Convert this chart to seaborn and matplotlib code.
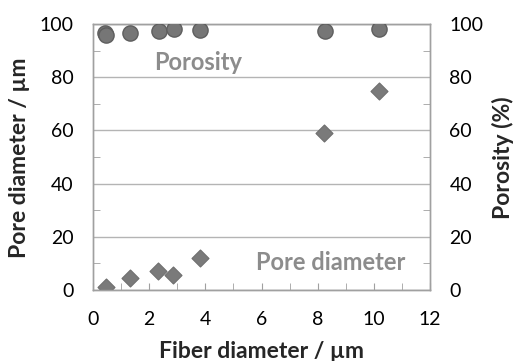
import matplotlib
matplotlib.use("Agg")
import matplotlib.pyplot as plt
import seaborn as sns
import pandas as pd
from matplotlib.ticker import MultipleLocator

fiber_por = [0.42, 0.47, 1.33, 2.34, 2.87, 3.82, 8.25, 10.2]
porosity = [96.5, 96.0, 96.8, 97.4, 98.1, 97.6, 97.4, 98.1]
fiber_pore = [0.45, 1.33, 2.31, 2.86, 3.81, 8.23, 10.2]
pore_diam = [1.0, 4.4, 7.1, 5.5, 11.9, 58.9, 74.8]

sns.set_style("white")
plt.rcParams['font.family'] = ['Lato', 'DejaVu Sans']

fig = plt.figure(figsize=(5.15, 3.61), dpi=100)
ax = fig.add_axes([93/515, 1-290/361, (430-93)/515, (290-24)/361])
ax2 = ax.twinx()

df_pore = pd.DataFrame({"fiber": fiber_pore, "pore": pore_diam})
df_por = pd.DataFrame({"fiber": fiber_por, "porosity": porosity})

sns.scatterplot(data=df_pore, x="fiber", y="pore", ax=ax, marker="D", s=75,
                color="#7a7a7a", edgecolor="#6e6e6e", linewidth=0.8, zorder=3)
sns.scatterplot(data=df_por, x="fiber", y="porosity", ax=ax2, marker="o", s=120,
                color="#767676", edgecolor="#5e5e5e", linewidth=1.0, zorder=3)

for a in (ax, ax2):
    a.set_ylim(0, 100)
    a.set_xlim(0, 12)
    a.yaxis.set_major_locator(MultipleLocator(20))
    a.yaxis.set_minor_locator(MultipleLocator(10))
    for s in a.spines.values():
        s.set_color("#a0a0a0")
        s.set_linewidth(1.0)
    a.set_xlabel("")
    a.set_ylabel("")

ax.xaxis.set_major_locator(MultipleLocator(2))
ax.xaxis.set_minor_locator(MultipleLocator(1))
ax.grid(axis="y", which="major", color="#b4b4b4", linewidth=1.0)
ax.set_axisbelow(True)

ax.tick_params(axis="both", which="both", direction="in", color="#a0a0a0",
               labelsize=14, labelcolor="black")
ax.tick_params(axis="y", which="major", length=0, pad=14)
ax.tick_params(axis="y", which="minor", length=5, left=True)
ax.tick_params(axis="x", which="both", length=5, bottom=True, pad=15)
ax2.tick_params(axis="y", which="both", direction="in", color="#a0a0a0",
                labelsize=14, labelcolor="black", pad=14, right=True)
ax2.tick_params(axis="y", which="major", length=0)
ax2.tick_params(axis="y", which="minor", length=5)

fig.text(261.5/515, 1-352/361, "Fiber diameter / µm", fontsize=16.5, fontweight="bold",
         ha="center", va="center")
fig.text(20/515, 1-158/361, "Pore diameter / µm", fontsize=16.5, fontweight="bold",
         ha="center", va="center", rotation=90)
fig.text(503/515, 1-157.5/361, "Porosity (%)", fontsize=16.5, fontweight="bold",
         ha="center", va="center", rotation=90)

ax.text(3.74, 85.6, "Porosity", fontsize=17, fontweight="bold", color="#8c8c8c",
        ha="center", va="center")
ax.text(8.47, 10.4, "Pore diameter", fontsize=17, fontweight="bold", color="#8c8c8c",
        ha="center", va="center")

fig.savefig("out.png", dpi=100)
